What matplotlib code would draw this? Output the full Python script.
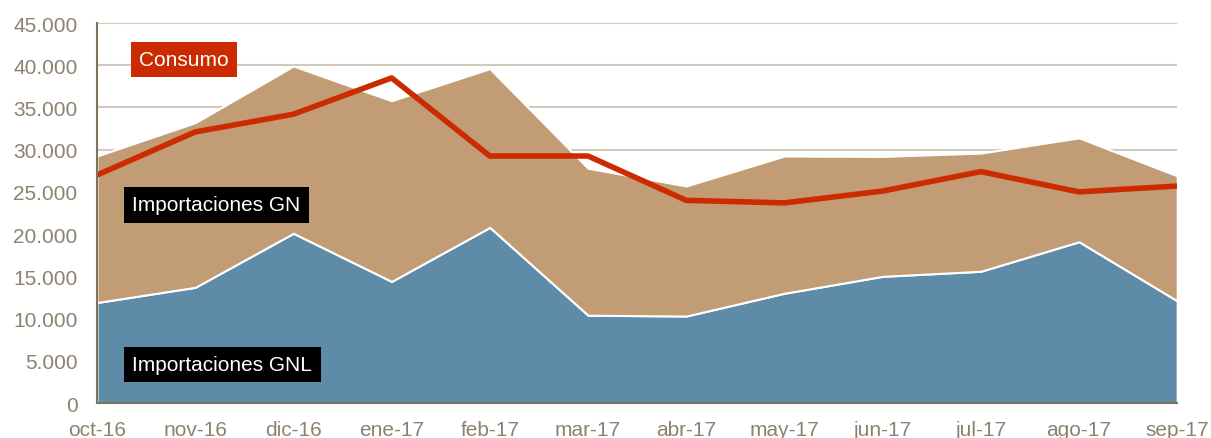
"""Gas natural: importaciones GNL / GN y consumo mensual."""

import matplotlib.pyplot as plt
from matplotlib.ticker import FuncFormatter

plt.rcParams['font.family'] = ['Liberation Sans', 'DejaVu Sans']

months = ['oct-16', 'nov-16', 'dic-16', 'ene-17', 'feb-17', 'mar-17',
          'abr-17', 'may-17', 'jun-17', 'jul-17', 'ago-17', 'sep-17']
importaciones_gnl = [11900, 13700, 20100, 14400, 20800, 10400,
                     10300, 13000, 15000, 15600, 19100, 12100]
importaciones_gn = [17350, 19500, 19800, 21400, 18800, 17400,
                    15400, 16250, 14200, 14000, 12300, 14800]
consumo = [27000, 32100, 34200, 38500, 29250, 29250,
           24000, 23700, 25100, 27400, 25000, 25700]

BLUE = '#5E8CA8'
TAN = '#C19C74'
RED = '#CC2A00'
TEXT = '#8C8270'
SPINE = '#7F7360'
GRID = '#CFCABD'

fig = plt.figure(figsize=(12.11, 4.39), dpi=100)
ax = fig.add_axes([0.0801, 0.0797, 0.892, 0.8656])

x = list(range(len(months)))
ax.stackplot(x, importaciones_gnl, importaciones_gn, colors=[BLUE, TAN],
             edgecolor='white', linewidth=1.5, zorder=2)
ax.plot(x, consumo, color=RED, linewidth=4, solid_joinstyle='round', zorder=3)

ax.set_xlim(0, len(months) - 1)
ax.set_ylim(0, 45000)
ax.set_yticks(range(0, 45001, 5000))
ax.yaxis.set_major_formatter(
    FuncFormatter(lambda v, _: f'{int(v):,}'.replace(',', '.')))
ax.set_xticks(x)
ax.set_xticklabels(months)

ax.grid(axis='y', color=GRID, linewidth=1.5, zorder=1)
ax.set_axisbelow(True)
for side in ('top', 'right'):
    ax.spines[side].set_visible(False)
for side in ('left', 'bottom'):
    ax.spines[side].set_color(SPINE)
    ax.spines[side].set_linewidth(1.5)
    ax.spines[side].set_zorder(4)
ax.tick_params(length=0, labelsize=15, colors=TEXT)
ax.tick_params(axis='y', pad=14)
ax.tick_params(axis='x', pad=12)

label_font = dict(fontsize=15, color='white', zorder=5)
ax.text(0.43, 40680, 'Consumo', va='center', ha='left',
        bbox=dict(facecolor=RED, edgecolor='none', pad=6), **label_font)
ax.text(0.36, 23450, 'Importaciones GN', va='center', ha='left',
        bbox=dict(facecolor='black', edgecolor='none', pad=6), **label_font)
ax.text(0.36, 4560, 'Importaciones GNL', va='center', ha='left',
        bbox=dict(facecolor='black', edgecolor='none', pad=6), **label_font)

fig.text(0.963, 1.012, 'Unidad: GWh', ha='right', va='center',
         fontsize=14, color='#555555')

fig.savefig('out.png', dpi=100)
